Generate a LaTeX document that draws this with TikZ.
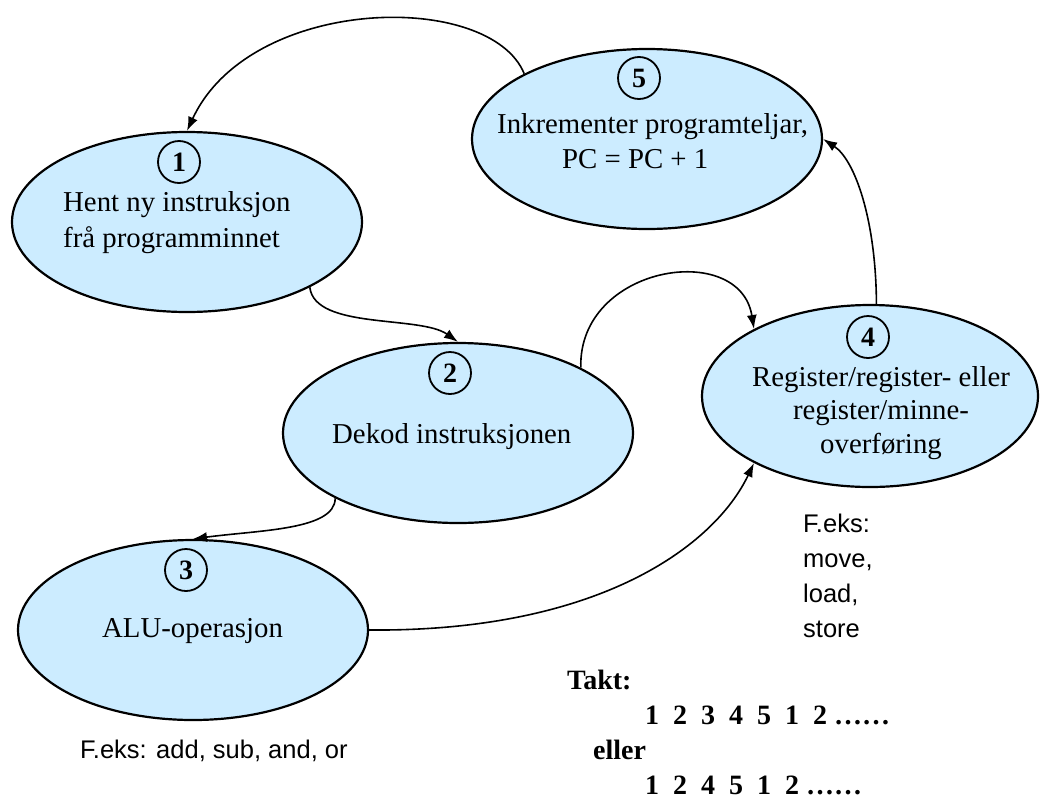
\documentclass[tikz,border=0pt]{standalone}
\usepackage{fontspec}
\setmainfont{Liberation Serif}
\setsansfont{Liberation Sans}
\usetikzlibrary{shapes.geometric,arrows.meta}
\definecolor{stagefill}{RGB}{204,236,255}
\tikzset{
    stage/.style={ellipse, draw, line width=2.2pt, fill=stagefill,
        minimum width=350pt, minimum height=180pt, inner sep=0pt},
    stepnum/.style={circle, draw, line width=1.8pt, minimum size=42pt,
        inner sep=0pt, font=\fontsize{28}{34}\selectfont\bfseries},
    stagetext/.style={font=\fontsize{28.8}{36}\selectfont, align=left, inner sep=0pt},
    note/.style={font=\sffamily\fontsize{25.5}{35}\selectfont, align=left, inner sep=0pt},
    flow/.style={-{Latex[length=14pt,width=10pt]}, line width=1.6pt},
}

\begin{document}
\begin{tikzpicture}[x=1pt, y=-1pt]
\useasboundingbox (0,0) rectangle (1040,798);

\node[stage] (fetch) at (187,222) {};
\node[stepnum] (n1) at (179,162) {1};
\node[stagetext, anchor=base west] (t1) at (63,247) {Hent ny instruksjon\\frå programminnet};

\node[stage] (incr) at (647,139) {};
\node[stepnum] (n5) at (639,78) {5};
\node[stagetext, anchor=base west, font=\fontsize{28.8}{35}\selectfont] (t5) at (497,168)
    {Inkrementer programteljar,\\\hspace*{65pt}PC = PC + 1};

\node[stage] (decode) at (458,433) {};
\node[stepnum] (n2) at (450,373) {2};
\node[stagetext, anchor=base west] (t2) at (332,443) {Dekod instruksjonen};

\node[stage] (alu) at (193,630) {};
\node[stepnum] (n3) at (186,570) {3};
\node[stagetext, anchor=base west] (t3) at (102,637) {ALU-operasjon};

\node[stage, minimum width=336pt, minimum height=182pt] (move) at (870,396) {};
\node[stepnum] (n4) at (868,337) {4};
\node[stagetext, align=center, anchor=base, font=\fontsize{28.8}{33.5}\selectfont] (t4) at (881,453)
    {Register/register- eller\\register/minne-\\overføring};

\node[note, anchor=base west] (ex3) at (80,758) {F.eks: add, sub, and, or};
\node[note, anchor=base west] (ex4) at (803,637) {F.eks:\\move,\\load,\\store};
\node[stagetext, anchor=base west, font=\fontsize{28}{35}\selectfont\bfseries] (takt) at (567,794)
    {Takt:\\\hspace*{78pt}1~~2~~3~~4~~5~~1~~2 ……\\\hspace*{26pt}eller\\\hspace*{78pt}1~~2~~4~~5~~1~~2 ……};

\draw[flow] (incr.152) .. controls (490,-10) and (250,-5) .. (fetch.north);
\draw[flow] (fetch.-28) .. controls (315,330) and (420,315) .. (decode.north);
\draw[flow] (decode.28) .. controls (578,265) and (740,240) .. (move.150);
\draw[flow] (decode.208) .. controls (335,530) and (260,530) .. (alu.north);
\draw[flow] (alu.east) .. controls (600,632) and (715,545) .. (move.210);
\draw[flow] (move.86) .. controls (876,220) and (855,160) .. (incr.east);
\end{tikzpicture}
\end{document}
